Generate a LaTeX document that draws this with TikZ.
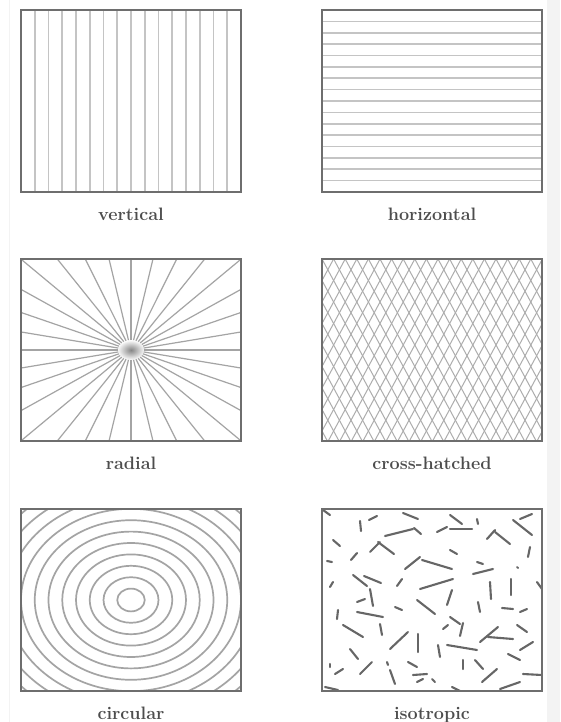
\documentclass[tikz,border=0pt]{standalone}
\usepackage{fontspec}
\usepackage{xcolor}
\usepackage{tikz}
\usetikzlibrary{calc,positioning}
\definecolor{Frame}{HTML}{6E6E6E}
\definecolor{Hatch}{HTML}{C4C4C4}
\definecolor{Ray}{HTML}{A4A4A4}
\definecolor{Mesh}{HTML}{ADADAD}
\definecolor{Ring}{HTML}{A4A4A4}
\definecolor{Stick}{HTML}{666666}
\definecolor{Caption}{HTML}{4D4D4D}
\definecolor{Edge}{HTML}{F3F3F3}

\begin{document}
\begin{tikzpicture}[x=1pt,y=-1pt,
  panel/.style={minimum width=220pt,minimum height=182pt,inner sep=0pt,outer sep=0pt},
  frame/.style={Frame,line width=1.6pt},
  stick/.style={Stick,line width=2.1pt,line cap=round},
  caption/.style={text=Caption,font=\fontsize{18}{20}\selectfont\bfseries,inner sep=0pt}]
  \useasboundingbox (0,0) rectangle (560,722);
  \fill[white] (0,0) rectangle (560,722);
  \fill[Edge] (547,0) rectangle (560,722);
  \draw[Edge,line width=1pt] (9,0) -- (9,722);

  % the six samples
  \node[panel] (vert) at (131,101) {};
  \node[panel] (horiz) at (432,101) {};
  \node[panel] (radl) at (131,350) {};
  \node[panel] (xhatch) at (432,350) {};
  \node[panel] (circ) at (131,600) {};
  \node[panel] (iso) at (432,600) {};

  \node[caption,below=28pt of vert.south,anchor=base] (vertlab) {vertical};
  \node[caption,below=28pt of horiz.south,anchor=base] (horizlab) {horizontal};
  \node[caption,below=28pt of radl.south,anchor=base] (radllab) {radial};
  \node[caption,below=28pt of xhatch.south,anchor=base] (xhatchlab) {cross-hatched};
  \node[caption,below=28pt of circ.south,anchor=base] (circlab) {circular};
  \node[caption,below=28pt of iso.south,anchor=base] (isolab) {isotropic};

  \begin{scope}[shift={(vert.north west)}]
    \foreach \i in {1,...,15}
      \draw[Hatch,line width=1.6pt] (\i*13.75,0) -- (\i*13.75,182);
  \end{scope}

  \begin{scope}[shift={(horiz.north west)}]
    \foreach \i in {1,...,15}
      \draw[Hatch,line width=1.6pt] (0,\i*11.375) -- (220,\i*11.375);
  \end{scope}

  \begin{scope}[shift={(radl.center)}]
    \clip (-110,-91) rectangle (110,91);
    \shade[inner color=gray!95,outer color=white] (0,0) ellipse (14 and 10);
    \foreach \k in {0,...,31}
      \draw[Ray,line width=1.2pt] ({13*cos(\k*11.25)},{10*sin(\k*11.25)})
        -- ({220*cos(\k*11.25)},{182*sin(\k*11.25)});
  \end{scope}

  \begin{scope}[shift={(xhatch.north west)}]
    \clip (0,0) rectangle (220,182);
    \foreach \i in {-9,...,28}
    {
      \draw[Mesh,line width=1pt] (\i*11.6,0) -- ++(98.2,182);
      \draw[Mesh,line width=1pt] (\i*11.6,0) -- ++(-98.2,182);
    }
  \end{scope}

  \begin{scope}[shift={(circ.center)}]
    \clip (-110,-91) rectangle (110,91);
    \foreach \k in {1,...,11}
      \draw[Ring,line width=1.7pt] (0,0) ellipse ({\k*13.75} and {\k*11.4});
  \end{scope}

  \begin{scope}
    \clip (iso.north west) rectangle (iso.south east);
    \foreach \a/\b/\c/\d in {
      323/510/330/515, 360/521/361/531, 369/520/377/516, 403/513/418/519,
      385/536/413/529, 414/528/421/534, 437/532/447/527, 450/515/462/524,
      450/529/472/529, 477/519/478/524, 487/539/495/530, 495/532/510/544,
      513/520/532/535, 520/519/532/514, 530/547/528/557, 333/540/340/546,
      351/560/357/553, 370/552/380/542, 378/542/394/554, 327/561/332/562,
      405/569/420/557, 422/560/452/569, 450/550/457/554, 477/562/483/564,
      473/574/493/569, 517/567/518/568, 330/587/333/582, 353/575/367/586,
      364/576/381/583, 397/586/402/579, 420/589/453/579, 490/582/491/599,
      511/579/511/595, 537/582/542/589, 370/589/373/606, 357/602/365/599,
      395/607/402/610, 417/600/435/614, 452/590/447/605, 478/602/480/612,
      338/610/337/619, 357/612/383/617, 502/608/513/609, 520/612/527/609,
      450/617/460/624, 463/623/460/636, 380/624/382/635, 343/625/363/637,
      443/629/448/625, 390/649/408/632, 418/634/418/652, 438/645/440/657,
      447/645/477/650, 480/642/498/627, 488/637/513/639, 517/625/527/632,
      520/650/533/642, 508/654/520/660, 350/649/358/659, 360/674/372/662,
      330/664/330/667, 335/674/343/669, 387/662/388/665, 390/670/395/684,
      408/662/417/667, 413/675/427/674, 417/682/423/679, 432/679/435/682,
      463/660/463/669, 475/660/483/669, 482/682/497/669, 523/674/542/675,
      452/687/462/692, 500/689/520/682, 325/687/338/690}
      \draw[stick] (\a,\b) -- (\c,\d);
  \end{scope}

  \foreach \p in {vert,horiz,radl,xhatch,circ,iso}
    \draw[frame] (\p.north west) rectangle (\p.south east);
\end{tikzpicture}
\end{document}
